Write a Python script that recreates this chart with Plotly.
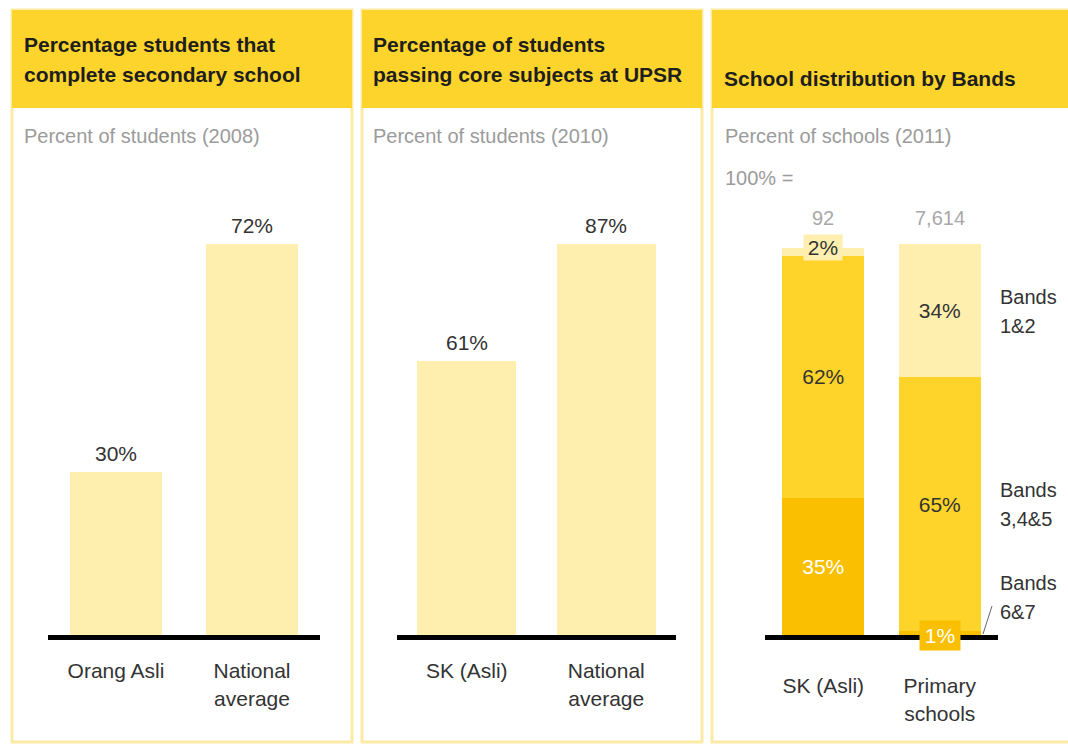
import plotly.graph_objects as go

W, H = 1068, 745

# ---- data ----
p1_categories = ["Orang Asli", "National<br>average"]
p1_values = [30, 72]

p2_categories = ["SK (Asli)", "National<br>average"]
p2_values = [61, 87]

p3_categories = ["SK (Asli)", "Primary<br>schools"]
p3_totals = ["92", "7,614"]
p3_band67 = [35, 1]
p3_band345 = [62, 65]
p3_band12 = [2, 34]

# ---- style ----
FONT = "Arial, Liberation Sans, sans-serif"
HEADER = "#FDD42C"
BORDER = "#FBEBA6"
LIGHT = "#FEEFAF"
MID = "#FED42A"
DARK = "#FAC000"
TXT = "#333333"
GRAY = "#9B9B9B"


def px(x):
    return x / W


def py(y):
    return 1 - y / H


fig = go.Figure()
ann = []

# simple bars, panels 1 and 2, value labels sit just above each bar
for cats, vals, xa, ya, bw in [(p1_categories, p1_values, "x", "y", 0.68),
                               (p2_categories, p2_values, "x2", "y2", 0.71)]:
    fig.add_trace(go.Bar(
        x=cats, y=vals, marker_color=LIGHT, width=bw, marker_line_width=0,
        xaxis=xa, yaxis=ya, hoverinfo="skip"))
    for c, v in zip(cats, vals):
        ann.append(dict(xref=xa, yref=ya, x=c, y=v, yshift=5,
                        xanchor="center", yanchor="bottom", showarrow=False,
                        text=f"{v}%", font=dict(size=21, color=TXT, family=FONT)))

# stacked bands, panel 3
bands = [(p3_band67, DARK, "white"), (p3_band345, MID, TXT), (p3_band12, LIGHT, TXT)]
for vals, col, tcol in bands:
    fig.add_trace(go.Bar(
        x=p3_categories, y=vals, marker_color=col, width=0.70,
        marker_line_width=0,
        text=[f"{v}%" if v >= 5 else "" for v in vals],
        textposition="inside", insidetextanchor="middle",
        textfont=dict(size=21, color=tcol, family=FONT), constraintext="none",
        xaxis="x3", yaxis="y3", hoverinfo="skip"))

ydom = [py(635), py(150)]
axis_common = dict(showgrid=False, zeroline=False, ticks="",
                   showline=True, linecolor="black", linewidth=5,
                   tickfont=dict(size=21, color=TXT, family=FONT),
                   fixedrange=True)
yaxis_common = dict(showgrid=False, zeroline=False, showticklabels=False,
                    showline=False, fixedrange=True)

fig.update_layout(
    width=W, height=H, margin=dict(l=0, r=0, t=0, b=0),
    paper_bgcolor="white", plot_bgcolor="rgba(0,0,0,0)",
    showlegend=False, barmode="stack",
    font=dict(family=FONT, color=TXT),
    xaxis=dict(domain=[px(48), px(320)], anchor="y", ticklabelstandoff=13, **axis_common),
    yaxis=dict(domain=ydom, range=[0, 485 / 5.43], anchor="x", **yaxis_common),
    xaxis2=dict(domain=[px(397), px(676)], anchor="y2", ticklabelstandoff=13, **axis_common),
    yaxis2=dict(domain=ydom, range=[0, 485 / 4.494], anchor="x2", **yaxis_common),
    xaxis3=dict(domain=[px(765), px(998)], anchor="y3", ticklabelstandoff=28, **axis_common),
    yaxis3=dict(domain=ydom, range=[0, 485 / 3.91], anchor="x3", **yaxis_common),
)

shapes = []
panels = [(12, 352), (362, 702), (712, 1080)]
for x0, x1 in panels:
    shapes.append(dict(type="rect", xref="paper", yref="paper", layer="below",
                       x0=px(x0), x1=px(x1), y0=py(742), y1=py(10),
                       fillcolor="white", line=dict(color=BORDER, width=3)))
    shapes.append(dict(type="rect", xref="paper", yref="paper", layer="below",
                       x0=px(x0), x1=px(x1), y0=py(108), y1=py(10),
                       fillcolor=HEADER, line=dict(width=0)))
# leader line for Bands 6&7
shapes.append(dict(type="line", xref="paper", yref="paper",
                   x0=px(983), y0=py(634), x1=px(992), y1=py(606),
                   line=dict(color="#666666", width=1)))
fig.update_layout(shapes=shapes)


def lines(texts, x, y0, step, size=21, color=TXT, bold=False):
    for i, t in enumerate(texts):
        ann.append(dict(xref="paper", yref="paper", x=px(x), y=py(y0 + i * step),
                        xanchor="left", yanchor="middle", showarrow=False,
                        text=f"<b>{t}</b>" if bold else t,
                        font=dict(size=size, color=color, family=FONT)))


# headers
lines(["Percentage students that", "complete secondary school"], 22, 44, 31, bold=True, color="#1E1E1E")
lines(["Percentage of students", "passing core subjects at UPSR"], 371, 44, 31, bold=True, color="#1E1E1E")
lines(["School distribution by Bands"], 722, 78, 31, bold=True, color="#1E1E1E")

# sub-titles
lines(["Percent of students (2008)"], 22, 136, 0, size=20, color=GRAY)
lines(["Percent of students (2010)"], 371, 136, 0, size=20, color=GRAY)
lines(["Percent of schools (2011)"], 723, 136, 0, size=20, color=GRAY)
lines(["100% ="], 723, 178, 0, size=20, color=GRAY)

# totals above stacked bars
for cat, tot in zip(p3_categories, p3_totals):
    ann.append(dict(xref="x3", yref="paper", x=cat, y=py(218),
                    xanchor="center", yanchor="middle", showarrow=False,
                    text=tot, font=dict(size=20, color="#A8A8A8", family=FONT)))

# band labels on the right
lines(["Bands", "1&2"], 998, 297, 29, size=20)
lines(["Bands", "3,4&5"], 998, 490, 29, size=20)
lines(["Bands", "6&7"], 998, 583, 29, size=20)

# small segments get boxed labels
for i, cat in enumerate(p3_categories):
    if p3_band12[i] < 5:
        yc = p3_band67[i] + p3_band345[i] + p3_band12[i] / 2
        ann.append(dict(xref="x3", yref="y3", x=cat, y=yc, yshift=4,
                        xanchor="center", yanchor="middle", showarrow=False,
                        text=f"{p3_band12[i]}%", bgcolor=LIGHT, borderpad=1, width=36,
                        font=dict(size=21, color=TXT, family=FONT)))
    if p3_band67[i] < 5:
        yc = p3_band67[i] / 2
        ann.append(dict(xref="x3", yref="y3", x=cat, y=yc, yshift=-2,
                        xanchor="center", yanchor="middle", showarrow=False,
                        text=f"{p3_band67[i]}%", bgcolor=DARK, borderpad=3, width=34,
                        font=dict(size=21, color="white", family=FONT)))

fig.update_layout(annotations=ann)

fig.write_html("out.html")
